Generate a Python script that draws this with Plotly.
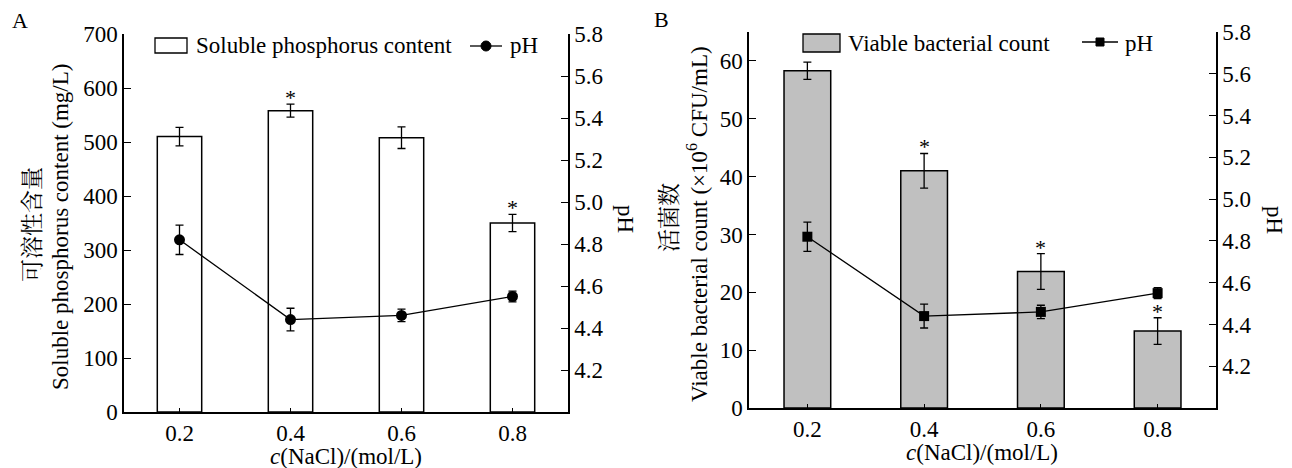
import plotly.graph_objects as go

W, H = 1292, 468

# ---------------- data ----------------
nacl = [0.2, 0.4, 0.6, 0.8]
nacl_labels = ["0.2", "0.4", "0.6", "0.8"]

phos = [510, 558, 508, 350]
phos_err = [17, 12, 20, 16]
phos_sig = [False, True, False, True]
ph_a = [4.82, 4.44, 4.46, 4.55]
ph_a_err = [0.07, 0.054, 0.03, 0.026]

viable = [58.3, 41.0, 23.6, 13.3]
viable_err = [1.5, 3.0, 3.1, 2.3]
viable_sig = [False, True, True, True]
ph_b = [4.82, 4.44, 4.46, 4.55]
ph_b_err = [0.07, 0.057, 0.032, 0.026]

ph_ticks = [4.2, 4.4, 4.6, 4.8, 5.0, 5.2, 5.4, 5.6, 5.8]

FONT = "Liberation Serif, Times New Roman, serif"
CJK = "Noto Serif CJK SC, Noto Sans CJK SC, Liberation Serif"
FS = 23


def px(x):
    return x / W


def py(y):
    return 1 - y / H


fig = go.Figure()

# Panel A
fig.add_trace(go.Bar(x=nacl, y=phos, width=0.08, xaxis="x", yaxis="y",
                     marker=dict(color="white", line=dict(color="black", width=1.5)),
                     error_y=dict(type="data", array=phos_err, color="black", thickness=1.3, width=4),
                     name="Soluble phosphorus content", showlegend=False))
fig.add_trace(go.Scatter(x=nacl, y=ph_a, xaxis="x", yaxis="y2", mode="lines+markers",
                         line=dict(color="black", width=1.3),
                         marker=dict(symbol="circle", size=11, color="black"),
                         error_y=dict(type="data", array=ph_a_err, color="black", thickness=1.3, width=4),
                         name="pH", showlegend=False))
# Panel B
fig.add_trace(go.Bar(x=nacl, y=viable, width=0.08, xaxis="x2", yaxis="y3",
                     marker=dict(color="#c0c0c0", line=dict(color="black", width=1.5)),
                     error_y=dict(type="data", array=viable_err, color="black", thickness=1.3, width=4),
                     name="Viable bacterial count", showlegend=False))
fig.add_trace(go.Scatter(x=nacl, y=ph_b, xaxis="x2", yaxis="y4", mode="lines+markers",
                         line=dict(color="black", width=1.3),
                         marker=dict(symbol="square", size=10, color="black"),
                         error_y=dict(type="data", array=ph_b_err, color="black", thickness=1.3, width=4),
                         name="pH", showlegend=False))

tickfont = dict(family=FONT, size=FS, color="black")
common_x = dict(range=[0.1, 0.9], tickvals=nacl, ticktext=nacl_labels, ticks="inside",
                ticklen=4, tickwidth=1.3, tickcolor="black", showline=True, linecolor="black",
                linewidth=1.5, showgrid=False, zeroline=False, tickfont=tickfont, fixedrange=True,
                automargin=False)
common_y = dict(ticks="inside", ticklen=7, tickwidth=1.3, tickcolor="black", showline=True,
                linecolor="black", linewidth=1.5, showgrid=False, zeroline=False, tickfont=tickfont,
                automargin=False)

fig.update_layout(
    template="none",
    width=W, height=H, autosize=False,
    margin=dict(l=0, r=0, t=0, b=0, pad=0, autoexpand=False),
    paper_bgcolor="white", plot_bgcolor="white",
    showlegend=False,
    font=dict(family=FONT, size=FS, color="black"),
    xaxis=dict(domain=[px(124), px(568)], anchor="y", **common_x),
    yaxis=dict(domain=[py(412), py(34)], anchor="x", range=[0, 700], dtick=100, **common_y),
    yaxis2=dict(overlaying="y", side="right", anchor="x", range=[4.0, 5.8], tickvals=ph_ticks,
                ticktext=[f"{v:.1f}" for v in ph_ticks], **common_y),
    xaxis2=dict(domain=[px(749), px(1216)], anchor="y3", **common_x),
    yaxis3=dict(domain=[py(408), py(32)], anchor="x2", range=[0, 65], dtick=10, **common_y),
    yaxis4=dict(overlaying="y3", side="right", anchor="x2", range=[4.0, 5.8], tickvals=ph_ticks,
                ticktext=[f"{v:.1f}" for v in ph_ticks], **common_y),
)

ann = []


def text_ann(x, y, text, size=FS, family=FONT, angle=0, xanchor="center", yanchor="middle"):
    return dict(x=px(x), y=py(y), xref="paper", yref="paper", text=text, textangle=angle,
                xanchor=xanchor, yanchor=yanchor, showarrow=False,
                font=dict(family=family, size=size, color="black"))


# significance asterisks
for xv, v, e, s in zip(nacl, phos, phos_err, phos_sig):
    if s:
        ann.append(dict(x=xv, y=v + e, xref="x", yref="y", text="*", showarrow=False,
                        xanchor="center", yanchor="bottom", yshift=-8,
                        font=dict(family=FONT, size=22, color="black")))
for xv, v, e, s in zip(nacl, viable, viable_err, viable_sig):
    if s:
        ann.append(dict(x=xv, y=v + e, xref="x2", yref="y3", text="*", showarrow=False,
                        xanchor="center", yanchor="bottom", yshift=-8,
                        font=dict(family=FONT, size=22, color="black")))

# panel labels
ann.append(text_ann(20, 21, "A", size=22))
ann.append(text_ann(661, 20, "B", size=22))

# axis titles
ann.append(text_ann(30, 225, "可溶性含量", family=CJK, angle=-90))
ann.append(text_ann(60, 227, "Soluble phosphorus content (mg/L)", angle=-90))
ann.append(text_ann(667, 218, "活菌数", family=CJK, angle=-90))
ann.append(text_ann(697, 224, "Viable bacterial count (×10<sup>6</sup> CFU/mL)", angle=-90))
ann.append(text_ann(626, 219, "pH", angle=90))
ann.append(text_ann(1275, 220, "pH", angle=90))
ann.append(text_ann(346, 456, "<i>c</i>(NaCl)/(mol/L)"))
ann.append(text_ann(982, 452, "<i>c</i>(NaCl)/(mol/L)"))

# legend texts
ann.append(text_ann(194, 46, "Soluble phosphorus content", xanchor="left"))
ann.append(text_ann(508, 46, "pH", xanchor="left"))
ann.append(text_ann(846, 43, "Viable bacterial count", xanchor="left"))
ann.append(text_ann(1123, 43, "pH", xanchor="left"))
fig.update_layout(annotations=ann)

# legend symbols
shapes = [
    dict(type="rect", xref="paper", yref="paper", x0=px(155), x1=px(187), y0=py(53), y1=py(38),
         fillcolor="white", line=dict(color="black", width=1.3)),
    dict(type="line", xref="paper", yref="paper", x0=px(470), x1=px(502), y0=py(46), y1=py(46),
         line=dict(color="black", width=1.3)),
    dict(type="circle", xref="paper", yref="paper", x0=px(481), x1=px(491), y0=py(51), y1=py(41),
         fillcolor="black", line=dict(color="black", width=1)),
    dict(type="rect", xref="paper", yref="paper", x0=px(803), x1=px(840), y0=py(52), y1=py(34),
         fillcolor="#c0c0c0", line=dict(color="black", width=1.3)),
    dict(type="line", xref="paper", yref="paper", x0=px(1082), x1=px(1118), y0=py(42), y1=py(42),
         line=dict(color="black", width=1.3)),
    dict(type="rect", xref="paper", yref="paper", x0=px(1096), x1=px(1104), y0=py(46), y1=py(38),
         fillcolor="black", line=dict(color="black", width=1)),
]
fig.update_layout(shapes=shapes)

fig.write_html("out.html")
